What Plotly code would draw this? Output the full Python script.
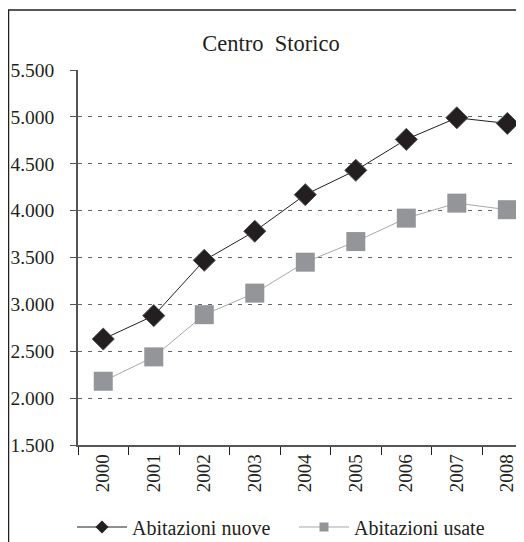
import plotly.graph_objects as go

years = ["2000", "2001", "2002", "2003", "2004", "2005", "2006", "2007", "2008"]
nuove = [2630, 2880, 3470, 3780, 4170, 4430, 4760, 4990, 4930]
usate = [2180, 2440, 2890, 3120, 3450, 3670, 3920, 4080, 4010]
y_ticks = [1500, 2000, 2500, 3000, 3500, 4000, 4500, 5000, 5500]

FONT = "Liberation Serif"
# the page adds an 8px body margin; figure coords = page coords - 8
W, H = 516, 534
ML, MR, MT, MB = 70, 0, 62, 97
pw = W - ML - MR
ph = H - MT - MB

fig = go.Figure()
fig.add_trace(go.Scatter(x=years, y=nuove, mode="lines+markers", name="Abitazioni nuove",
                         line=dict(color="#231f20", width=1),
                         marker=dict(symbol="diamond", size=17, color="#231f20",
                                     line=dict(color="#555555", width=1)),
                         showlegend=False))
fig.add_trace(go.Scatter(x=years, y=usate, mode="lines+markers", name="Abitazioni usate",
                         line=dict(color="#a7a9ac", width=1),
                         marker=dict(symbol="square", size=19, color="#939598"),
                         showlegend=False))
# legend entries with smaller symbols
fig.add_trace(go.Scatter(x=[None], y=[None], mode="lines+markers", name="Abitazioni nuove",
                         line=dict(color="#231f20", width=1),
                         marker=dict(symbol="diamond", size=10, color="#231f20")))
fig.add_trace(go.Scatter(x=[None], y=[None], mode="lines+markers", name="Abitazioni usate",
                         line=dict(color="#a7a9ac", width=1),
                         marker=dict(symbol="square", size=9, color="#939598")))

fig.add_shape(type="rect", xref="paper", yref="paper",
              x0=(0.5 - ML) / pw, x1=1.2, y0=-0.6, y1=(ph + MT - 2) / ph,
              line=dict(color="#231f20", width=1.5), fillcolor="rgba(0,0,0,0)", layer="above")

fig.update_layout(
    width=W, height=H,
    margin=dict(l=ML, r=MR, t=MT, b=MB, autoexpand=False),
    paper_bgcolor="white", plot_bgcolor="white",
    font=dict(family=FONT, size=19, color="#231f20"),
    separators=",.",
    title=dict(text="Centro\u00a0\u00a0Storico", x=263 / W, xref="container", xanchor="center",
               y=1 - 35 / H, yanchor="middle", font=dict(size=22.5, family=FONT)),
    showlegend=True,
    legend=dict(orientation="h", x=(64 - ML) / pw, xanchor="left", y=-(519 - (H - MB)) / ph,
                yanchor="middle", font=dict(size=20, family=FONT), bgcolor="rgba(0,0,0,0)",
                itemwidth=50, tracegroupgap=0, entrywidth=157, entrywidthmode="pixels"),
)
fig.update_xaxes(type="category", range=[-0.5, 8.33], tickson="boundaries", ticks="outside",
                 ticklen=8, tickcolor="#231f20", showline=True, linecolor="#555555", linewidth=1.5,
                 tickangle=-90, showgrid=False, tickfont=dict(size=19, family=FONT),
                 automargin=False, fixedrange=True)
fig.update_yaxes(range=[1500, 5500], tickvals=y_ticks, tickformat=",.0f", ticks="outside",
                 ticklen=6, tickcolor="#555555", showline=True, linecolor="#555555", linewidth=1.5,
                 showgrid=True, gridcolor="#666666", gridwidth=1, griddash="4px,6px",
                 zeroline=False, tickfont=dict(size=19.5, family=FONT), ticklabelstandoff=12,
                 automargin=False)

fig.write_html("out.html")
